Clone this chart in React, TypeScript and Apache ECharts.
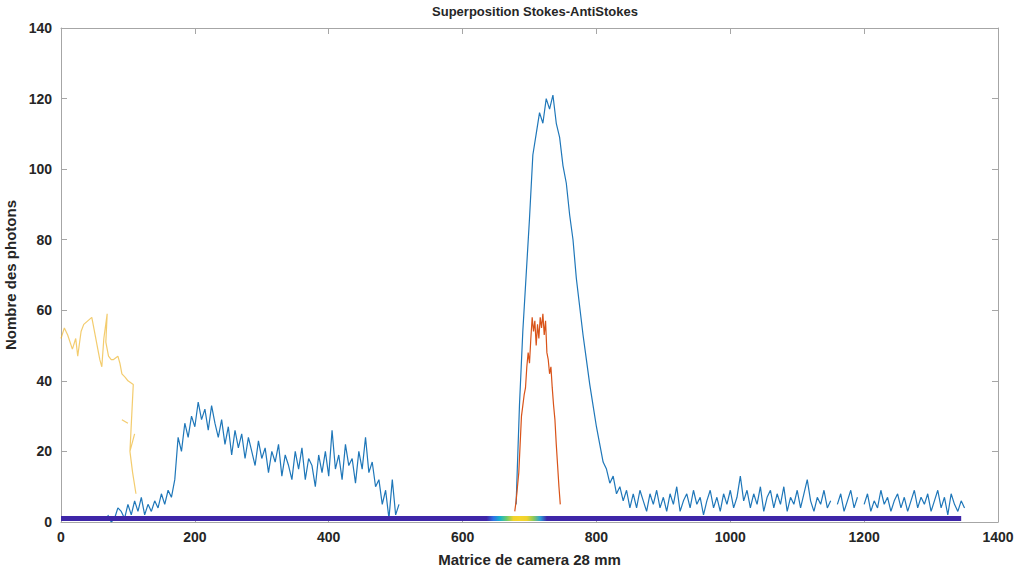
import React, { useEffect, useRef } from "react";
import * as echarts from "echarts";

const titleText = "Superposition Stokes-AntiStokes";
const xName = "Matrice de camera 28 mm";
const yName = "Nombre des photons";

// Blue series: sampled every 5 units starting at x = 70 (null = gap)
const blueStart = 70;
const blueStep = 5;
const blueValues: (number | null)[] = [
  2, 0, 1, 4, 3, 1, 5, 2, 6, 3, 7, 2, 5,
  3, 6, 4, 8, 5, 9, 7, 12, 24, 20, 28, 24, 30, 27, 34, 29, 32, 26, 33, 28, 24, 29, 22, 27, 19, 26, 21, 25, 18, 24, 20, 16, 23, 18, 21, 14, 20, 17, 22, 13, 19, 16, 12, 20, 15, 21, 12, 18, 16, 10, 19, 14, 20, 13, 26, 15, 19, 12, 22, 16, 18, 11, 20, 15, 24, 14, 17, 10, 12, 5, 9, 1, 12, 2, 5,
  null, null, null, null, null, null, null, null, null, null, null, null, null, null, null, null, null, null, null, null, null, null, null, null, null, null, null, null, null, null, null, null, null, null,
  5, 33, 54, 70, 86, 104, 110, 116, 113, 120, 117, 121, 113, 109, 101, 96, 87, 80, 69, 61, 53, 46, 39, 33, 27, 22, 17, 15, 11, 13, 8, 10, 6, 9, 4, 8, 4, 9, 6, 3, 8, 5, 9, 4, 7, 3, 8, 5, 10, 3, 6, 8, 4, 9, 5, 7, 2, 6, 9, 4, 7, 3, 8, 5, 9, 4, 7, 13, 6, 9, 4, 8, 5, 10, 3, 7, 9, 4, 8, 5, 10, 3, 7, 5, 9, 4, 8, 12, 6, 3, 7, 5, 9, 4, 6, null, 5, 8, 3, 6, 9, 4, 7, null, 5, 8, 3, 6, 4, 9, 5, 7, 3, 6, 8, 4, 7, 3, 6, 9, 4, 7, 5, 8, 3, 6, 9, 4, 7, 2, 8, 5, 3, 6, 4,
];

// Orange series
const orangeX = [678, 680, 682, 684, 686, 688, 690, 692, 694, 696, 698, 700, 702, 704, 706, 708, 710, 712, 714, 716, 718, 720, 722, 724, 726, 728, 730, 732, 734, 736, 738, 740, 742, 744, 746];
const orangeY = [3, 6, 10, 14, 22, 30, 33, 36, 38, 44, 48, 45, 52, 58, 54, 57, 50, 56, 52, 58, 55, 59, 53, 57, 48, 46, 42, 44, 38, 33, 29, 22, 16, 10, 5];

// Yellow series (ordered points, null = break)
const yellowX = [0, 5, 10, 17, 22, 25, 30, 34, 40, 46, 50, 55, 58, 61, 64, 69, 67, 71, 75, 78, 85, 88, 91, 96, 100, 108, 103, 110, 110, 103, 107, 112, 112, 91, 100];
const yellowY: (number | null)[] = [52, 55, 53, 49, 52, 47, 54, 56, 57, 58, 54, 49, 46, 44, 52, 59, 51, 47, 46, 46, 47, 45, 42, 41, 40, 39, 20, 25, null, 20, 14, 8, null, 29, 28];

// Baseline (coloured band)
const baseX = [0, 1345];
const baseY = [1, 1];
const baseColors = ["#3e26a8", "#2f6fe6", "#16b2cc", "#6fcb6a", "#f2d32a", "#f5d62c", "#f0d22c", "#8cca5a", "#2aa0d8", "#3e26a8"];
const baseRange = { min: 636, max: 726 };

const xTicks = { min: 0, max: 1400, interval: 200 };
const yTicks = { min: 0, max: 140, interval: 20 };

const FONT = "'Liberation Sans', Arial, Helvetica, sans-serif";
const AXIS_GRAY = "#a6a6a6";
const TEXT = "#262626";

export default function App() {
  const ref = useRef<HTMLDivElement>(null);
  useEffect(() => {
    if (!ref.current) return;
    const chart = echarts.init(ref.current, undefined, { renderer: "svg" });
    const blueData = blueValues.map((v, i) => [blueStart + i * blueStep, v === null ? "-" : v]);
    const orangeData = orangeX.map((x, i) => [x, orangeY[i]]);
    const yellowData = yellowX.map((x, i) => [x, yellowY[i] === null ? "-" : yellowY[i]]);
    const baseData = baseX.map((x, i) => [x, baseY[i]]);

    const axisCommon = {
      type: "value" as const,
      axisLine: { show: true, onZero: false, lineStyle: { color: AXIS_GRAY, width: 1 } },
      axisTick: { show: true, inside: true, length: 6, lineStyle: { color: AXIS_GRAY } },
      splitLine: { show: false },
    };
    const labelStyle = {
      color: TEXT,
      fontFamily: FONT,
      fontWeight: "bold" as const,
      fontSize: 14,
      formatter: (v: number) => String(v),
    };

    chart.setOption({
      animation: false,
      backgroundColor: "#ffffff",
      title: {
        text: titleText,
        left: 530,
        textAlign: "center",
        top: 0,
        textStyle: { color: TEXT, fontFamily: FONT, fontWeight: "bold", fontSize: 13 },
      },
      grid: { left: 61, right: 21, top: 28, bottom: 52, containLabel: false, outerBoundsMode: "none" },
      xAxis: [
        {
          ...axisCommon,
          position: "bottom",
          ...xTicks,
          axisLabel: { ...labelStyle, margin: 8 },
          name: xName,
          nameLocation: "middle",
          nameGap: 30,
          nameTextStyle: { color: TEXT, fontFamily: FONT, fontWeight: "bold", fontSize: 15 },
        },
        { ...axisCommon, position: "top", ...xTicks, axisLabel: { show: false } },
      ],
      yAxis: [
        {
          ...axisCommon,
          position: "left",
          ...yTicks,
          axisLabel: { ...labelStyle, margin: 9 },
          name: yName,
          nameLocation: "middle",
          nameGap: 35,
          nameTextStyle: { color: TEXT, fontFamily: FONT, fontWeight: "bold", fontSize: 15 },
        },
        { ...axisCommon, position: "right", ...yTicks, axisLabel: { show: false } },
      ],
      visualMap: [
        {
          type: "continuous",
          show: false,
          seriesIndex: 3,
          dimension: 0,
          min: baseRange.min,
          max: baseRange.max,
          inRange: { color: baseColors },
          outOfRange: { color: "#3e26a8" },
        },
      ],
      series: [
        {
          type: "line",
          data: blueData,
          showSymbol: false,
          connectNulls: false,
          lineStyle: { color: "#1f77b9", width: 1.2 },
          itemStyle: { color: "#1f77b9" },
          z: 2,
        },
        {
          type: "line",
          data: orangeData,
          showSymbol: false,
          lineStyle: { color: "#D95319", width: 1.2 },
          itemStyle: { color: "#D95319" },
          z: 3,
        },
        {
          type: "line",
          data: yellowData,
          showSymbol: false,
          connectNulls: false,
          lineStyle: { color: "#EDB120", width: 1.2, opacity: 0.65 },
          itemStyle: { color: "#EDB120" },
          z: 3,
        },
        {
          type: "line",
          data: baseData,
          showSymbol: false,
          lineStyle: { width: 5 },
          z: 4,
        },
      ],
    });
    return () => chart.dispose();
  }, []);
  return <div ref={ref} style={{ width: 1019, height: 574, position: "absolute", left: 0, top: 0 }} />;
}
